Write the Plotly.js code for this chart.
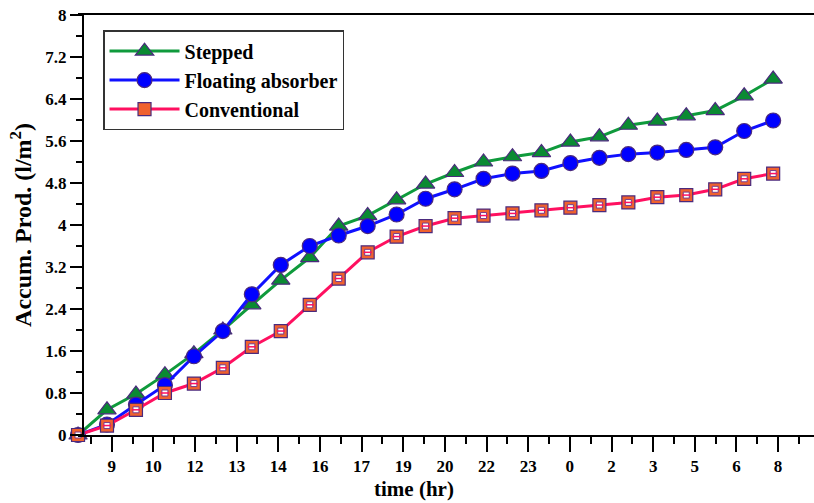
<!DOCTYPE html>
<html>
<head>
<meta charset="utf-8">
<script src="https://cdn.plot.ly/plotly-3.0.1.min.js"></script>
<style>html,body{margin:0;padding:0;background:#fff;}#chart{width:814px;height:503px;}</style>
</head>
<body>
<div id="chart"></div>
<script>
// Data (hours elapsed from start of test; one reading per hour)
const hours = [0,1,2,3,4,5,6,7,8,9,10,11,12,13,14,15,16,17,18,19,20,21,22,23,24];
const stepped = [0,0.48,0.78,1.15,1.55,2.0,2.48,2.95,3.38,3.98,4.18,4.48,4.78,5.0,5.2,5.3,5.38,5.58,5.68,5.9,5.98,6.08,6.18,6.46,6.78];
const floating = [0,0.2,0.58,0.95,1.5,1.98,2.68,3.24,3.6,3.8,3.98,4.2,4.5,4.68,4.88,4.98,5.03,5.18,5.28,5.35,5.38,5.43,5.48,5.79,5.99];
const conventional = [0,0.18,0.48,0.8,0.98,1.28,1.68,1.98,2.48,2.98,3.48,3.78,3.98,4.13,4.18,4.22,4.28,4.33,4.38,4.43,4.53,4.57,4.68,4.88,4.98];
const seriesNames = ['Stepped','Floating absorber','Conventional'];
const xTickLabels = ['9','10','12','13','14','16','17','19','20','22','23','0','2','3','5','6','8'];

// Axis tick layout
const firstTick = 1.163, tickStep = 1.438;
const xTickVals = xTickLabels.map((_, k) => firstTick + k * tickStep);
const xMinorVals = [];
for (let k = -1; k < xTickLabels.length; k++) xMinorVals.push(firstTick + (k + 0.5) * tickStep);

const outline = '#4b2a7d';
const FONT = 'Liberation Serif, Times New Roman, serif';

const traces = [
  {
    x: hours, y: stepped, name: seriesNames[0], type: 'scatter', mode: 'lines+markers',
    line: {color: '#0f9a3c', width: 3},
    marker: {symbol: 'triangle-up', size: 16, color: '#0a8a32', line: {color: outline, width: 1.2}},
    cliponaxis: false
  },
  {
    x: hours, y: floating, name: seriesNames[1], type: 'scatter', mode: 'lines+markers',
    line: {color: '#1010ff', width: 3},
    marker: {symbol: 'circle', size: 15, color: '#0000ff', line: {color: outline, width: 1.2}},
    cliponaxis: false
  },
  {
    x: hours, y: conventional, name: seriesNames[2], type: 'scatter', mode: 'lines+markers',
    line: {color: '#ff1060', width: 3},
    marker: {symbol: 'square', size: 13, color: '#f0612e', line: {color: outline, width: 1.2}},
    cliponaxis: false
  },
  {
    x: hours, y: conventional, type: 'scatter', mode: 'markers', showlegend: false, hoverinfo: 'skip',
    marker: {symbol: 'square', size: 6, color: '#ffffff', line: {color: '#7a3a8a', width: 1}},
    cliponaxis: false
  },
  {
    x: hours, y: conventional, type: 'scatter', mode: 'markers', showlegend: false, hoverinfo: 'skip',
    marker: {symbol: 'line-ew', size: 6, color: '#ff1060', line: {color: '#ff1060', width: 1.5}},
    cliponaxis: false
  }
];

const layout = {
  width: 814, height: 503,
  margin: {l: 78, r: 0, t: 15, b: 68},
  paper_bgcolor: '#ffffff', plot_bgcolor: '#ffffff',
  font: {family: FONT, color: '#000', size: 17},
  showlegend: true,
  legend: {
    x: 0.034, y: 0.964, xanchor: 'left', yanchor: 'top',
    bgcolor: '#ffffff', bordercolor: '#333333', borderwidth: 1.5,
    font: {family: FONT, size: 20, color: '#000', weight: 'bold'},
    itemwidth: 70, tracegroupgap: 0
  },
  xaxis: {
    range: [-0.001, 25.41],
    tickmode: 'array', tickvals: xTickVals, ticktext: xTickLabels,
    ticks: 'outside', ticklen: 15, tickwidth: 2, tickcolor: '#000',
    minor: {tickmode: 'array', tickvals: xMinorVals, ticks: 'outside', ticklen: 7, tickwidth: 2, tickcolor: '#000', showgrid: false},
    tickfont: {family: FONT, size: 17, color: '#000', weight: 'bold'},
    showline: true, linecolor: '#000', linewidth: 2, mirror: true,
    showgrid: false, zeroline: false
  },
  yaxis: {
    anchor: 'free', position: 0.0068,
    range: [0, 8], tick0: 0, dtick: 0.8, tickmode: 'linear',
    ticks: 'outside', ticklen: 12, tickwidth: 2, tickcolor: '#000',
    minor: {dtick: 0.4, tick0: 0, ticks: 'outside', ticklen: 6, tickwidth: 2, tickcolor: '#000', showgrid: false},
    tickfont: {family: FONT, size: 17, color: '#000', weight: 'bold'},
    showline: true, linecolor: '#000', linewidth: 2, mirror: false,
    showgrid: false, zeroline: false,
    title: {text: 'Accum. Prod. (l/m<sup>2</sup>)', font: {family: FONT, size: 24, color: '#000', weight: 'bold'}, standoff: 6}
  },
  annotations: [
    {text: 'time (hr)', xref: 'paper', yref: 'paper', x: 0.456, y: 0, yshift: -54, xanchor: 'center', yanchor: 'middle',
     showarrow: false, font: {family: FONT, size: 21, color: '#000', weight: 'bold'}}
  ]
};

Plotly.newPlot('chart', traces, layout, {displayModeBar: false, staticPlot: true});
</script>
</body>
</html>
